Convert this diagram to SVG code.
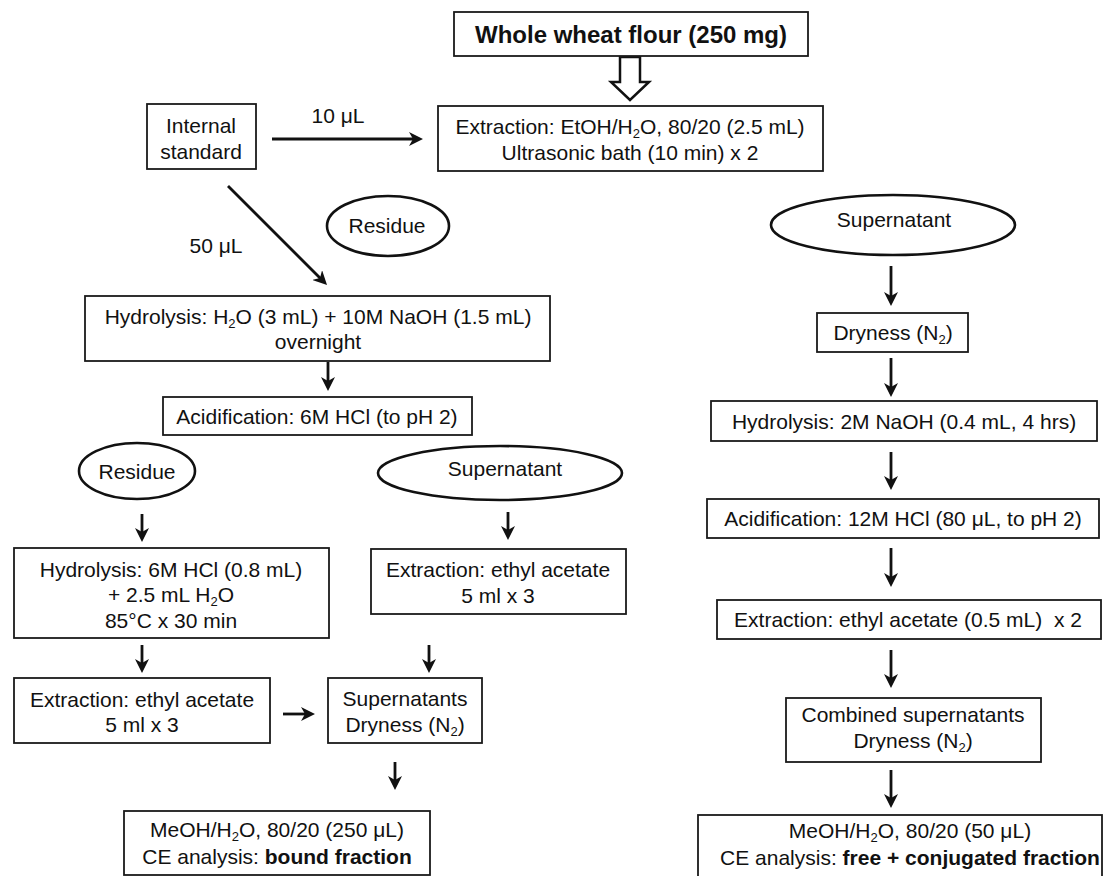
<svg xmlns="http://www.w3.org/2000/svg" width="1104" height="876" viewBox="0 0 1104 876">
<style>
.box{fill:#fff;stroke:#1a1a1a;stroke-width:1.8}
.ell{fill:#fff;stroke:#111;stroke-width:2.6}
.t{font-family:"Liberation Sans",Arial,sans-serif;font-size:21px;fill:#111;text-anchor:middle}
.b{font-weight:bold}
.s{font-size:13px}
.c{fill:none;stroke:#111;stroke-width:2.8}
.hollow{fill:#fff;stroke:#111;stroke-width:2.5;stroke-linejoin:miter}
</style>
<defs>
<marker id="ah" markerUnits="userSpaceOnUse" markerWidth="14" markerHeight="14" refX="9" refY="7" orient="auto" viewBox="0 0 14 14">
<path d="M0,0 L14,7 L0,14 L4,7 Z" fill="#111"/>
</marker>
</defs>
<rect width="1104" height="876" fill="#fff"/>

<g id="connectors">
<path class="hollow" d="M620,57 V82 H611 L630,100 L649,82 H640 V57 Z"/>
<path class="c" marker-end="url(#ah)" d="M272,139 H418"/>
<path class="c" marker-end="url(#ah)" d="M228,186 L323.5,281.5"/>
<path class="c" marker-end="url(#ah)" d="M328,362 V386"/>
<path class="c" marker-end="url(#ah)" d="M142,514 V537"/>
<path class="c" marker-end="url(#ah)" d="M508,512 V535"/>
<path class="c" marker-end="url(#ah)" d="M142,645 V668"/>
<path class="c" marker-end="url(#ah)" d="M429,645 V668"/>
<path class="c" marker-end="url(#ah)" d="M283,714 H310"/>
<path class="c" marker-end="url(#ah)" d="M395,762 V785"/>
<path class="c" marker-end="url(#ah)" d="M891,266 V301"/>
<path class="c" marker-end="url(#ah)" d="M891,358 V392"/>
<path class="c" marker-end="url(#ah)" d="M891,452 V485"/>
<path class="c" marker-end="url(#ah)" d="M891,548 V582"/>
<path class="c" marker-end="url(#ah)" d="M891,650 V683"/>
<path class="c" marker-end="url(#ah)" d="M891,770 V803"/>
<text class="t" x="338" y="123">10 μL</text>
<text class="t" x="216" y="253">50 μL</text>
</g>

<g id="flour">
<rect class="box" x="454" y="12" width="354" height="44"/>
<text class="t b" x="631" y="43" style="font-size:24px">Whole wheat flour (250 mg)</text>
</g>

<g id="internal-standard">
<rect class="box" x="147" y="104" width="109" height="65"/>
<text class="t" x="201" y="133">Internal</text>
<text class="t" x="201" y="159">standard</text>
</g>

<g id="extraction-etoh">
<rect class="box" x="438" y="106" width="385" height="65"/>
<text class="t" x="630" y="134">Extraction: EtOH/H<tspan class="s" dy="4">2</tspan><tspan dy="-4">O, 80/20 (2.5 mL)</tspan></text>
<text class="t" x="630" y="160">Ultrasonic bath (10 min) x 2</text>
</g>

<g id="residue-1">
<ellipse class="ell" cx="388" cy="226" rx="61" ry="30"/>
<text class="t" x="387" y="233">Residue</text>
</g>

<g id="supernatant-1">
<ellipse class="ell" cx="893" cy="225" rx="122" ry="30"/>
<text class="t" x="894" y="227">Supernatant</text>
</g>

<g id="hydrolysis-naoh">
<rect class="box" x="85" y="296" width="465" height="65"/>
<text class="t" x="318" y="324">Hydrolysis: H<tspan class="s" dy="4">2</tspan><tspan dy="-4">O (3 mL) + 10M NaOH (1.5 mL)</tspan></text>
<text class="t" x="318" y="349">overnight</text>
</g>

<g id="acidification-6m">
<rect class="box" x="163" y="397" width="309" height="38"/>
<text class="t" x="317" y="424">Acidification: 6M HCl (to pH 2)</text>
</g>

<g id="residue-2">
<ellipse class="ell" cx="137" cy="471" rx="58" ry="28"/>
<text class="t" x="137" y="479">Residue</text>
</g>

<g id="supernatant-2">
<ellipse class="ell" cx="500" cy="473" rx="122" ry="27"/>
<text class="t" x="505" y="476">Supernatant</text>
</g>

<g id="hydrolysis-hcl">
<rect class="box" x="14" y="548" width="315" height="90"/>
<text class="t" x="171" y="577">Hydrolysis: 6M HCl (0.8 mL)</text>
<text class="t" x="171" y="602">+ 2.5 mL H<tspan class="s" dy="4">2</tspan><tspan dy="-4">O</tspan></text>
<text class="t" x="171" y="628">85°C x 30 min</text>
</g>

<g id="extraction-mid">
<rect class="box" x="371" y="549" width="255" height="65"/>
<text class="t" x="498" y="577">Extraction: ethyl acetate</text>
<text class="t" x="498" y="603">5 ml x 3</text>
</g>

<g id="extraction-left">
<rect class="box" x="14" y="678" width="256" height="65"/>
<text class="t" x="142" y="707">Extraction: ethyl acetate</text>
<text class="t" x="142" y="732">5 ml x 3</text>
</g>

<g id="supernatants-dryness">
<rect class="box" x="328" y="678" width="154" height="65"/>
<text class="t" x="405" y="706">Supernatants</text>
<text class="t" x="405" y="732">Dryness (N<tspan class="s" dy="4">2</tspan><tspan dy="-4">)</tspan></text>
</g>

<g id="bound-fraction">
<rect class="box" x="124" y="811" width="306" height="64"/>
<text class="t" x="277" y="837">MeOH/H<tspan class="s" dy="4">2</tspan><tspan dy="-4">O, 80/20 (250 μL)</tspan></text>
<text class="t" x="277" y="864">CE analysis: <tspan class="b">bound fraction</tspan></text>
</g>

<g id="dryness-right">
<rect class="box" x="817" y="313" width="151" height="39"/>
<text class="t" x="893" y="340">Dryness (N<tspan class="s" dy="4">2</tspan><tspan dy="-4">)</tspan></text>
</g>

<g id="hydrolysis-2m">
<rect class="box" x="711" y="401" width="386" height="40"/>
<text class="t" x="904" y="429">Hydrolysis: 2M NaOH (0.4 mL, 4 hrs)</text>
</g>

<g id="acidification-12m">
<rect class="box" x="707" y="499" width="392" height="39"/>
<text class="t" x="903" y="526">Acidification: 12M HCl (80 μL, to pH 2)</text>
</g>

<g id="extraction-right">
<rect class="box" x="717" y="600" width="384" height="39"/>
<text class="t" x="908" y="627" xml:space="preserve">Extraction: ethyl acetate (0.5 mL)  x 2</text>
</g>

<g id="combined">
<rect class="box" x="786" y="698" width="255" height="64"/>
<text class="t" x="913" y="722">Combined supernatants</text>
<text class="t" x="913" y="748">Dryness (N<tspan class="s" dy="4">2</tspan><tspan dy="-4">)</tspan></text>
</g>

<g id="free-fraction">
<rect class="box" x="698" y="815" width="404" height="70"/>
<text class="t" x="910" y="838">MeOH/H<tspan class="s" dy="4">2</tspan><tspan dy="-4">O, 80/20 (50 μL)</tspan></text>
<text class="t" x="910" y="865">CE analysis: <tspan class="b">free + conjugated fraction</tspan></text>
</g>
</svg>
